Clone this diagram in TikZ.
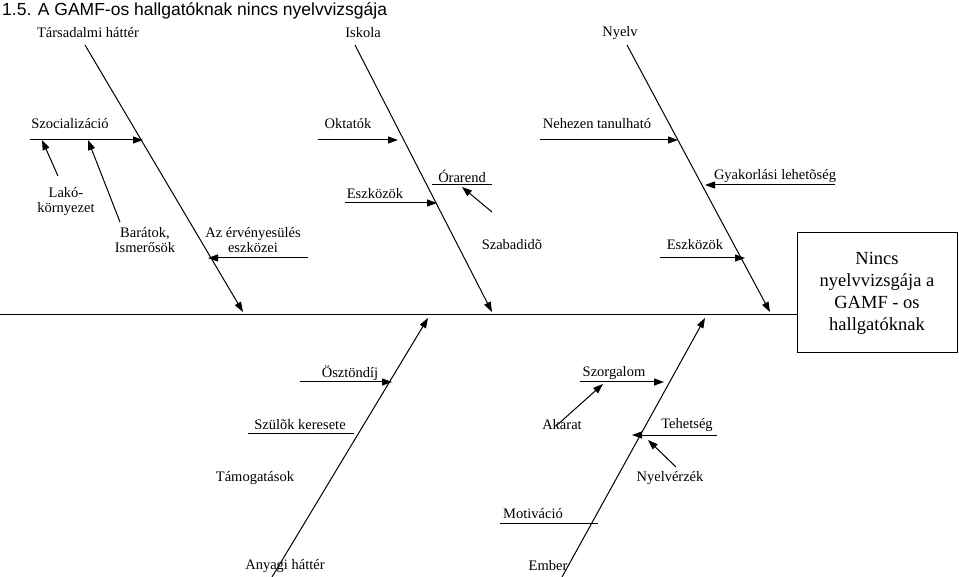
\documentclass[tikz,border=0pt]{standalone}
\usepackage{fontspec}
\setmainfont{Liberation Serif}
\newfontfamily\titlefont{Liberation Sans}
\usetikzlibrary{arrows.meta}
\begin{document}
\begin{tikzpicture}[x=1pt,y=-1pt,
  lbl/.style={font=\fontsize{14.5}{15}\selectfont,inner sep=0pt,align=center},
  ar/.style={-{Triangle[length=10pt,width=7pt]},line width=1pt},
  ln/.style={line width=1pt}]
\useasboundingbox (0,0) rectangle (959,577);
\node[anchor=west,inner sep=0pt,font=\titlefont\fontsize{17.5}{19}\selectfont] (title) at (2,11) {1.5. A GAMF-os hallgatóknak nincs nyelvvizsgája};
% spine and box
\node[draw,line width=1pt,minimum width=160pt,minimum height=120pt,inner sep=0pt,align=center,font=\fontsize{18.5}{22}\selectfont] (box) at (877,293) {Nincs\\nyelvvizsgája a\\GAMF - os\\hallgatóknak};
\coordinate (s0) at (0,315);
\draw[ln] (s0) -- (box.west |- s0);
% top branches
\coordinate (t1a) at (85,45); \coordinate (t1b) at (243,312);
\coordinate (t2a) at (355,45); \coordinate (t2b) at (492,312);
\coordinate (t3a) at (627,45); \coordinate (t3b) at (770,312);
\draw[ar] (t1a) -- (t1b); \draw[ar] (t2a) -- (t2b); \draw[ar] (t3a) -- (t3b);
\node[lbl] (n1) at (88,33) {Társadalmi háttér};
\node[lbl] (n2) at (363,33) {Iskola};
\node[lbl] (n3) at (620,33) {Nyelv};
% bottom branches
\coordinate (b1a) at (272,577); \coordinate (b1b) at (428,318);
\coordinate (b2a) at (562,577); \coordinate (b2b) at (705,318);
\draw[ar] (b1a) -- (b1b); \draw[ar] (b2a) -- (b2b);
\node[lbl] (n4) at (285,566) {Anyagi háttér};
\node[lbl] (n5) at (548,566) {Ember};
% sub labels top
\node[lbl] (szoc) at (70,124) {Szocializáció};
\coordinate (szl) at (30,140); \coordinate (szr) at (143,140);
\draw[ar] (szl) -- (szr);
\node[lbl] (okt) at (348,124) {Oktatók};
\coordinate (okl) at (318,140); \coordinate (okr) at (398,140);
\draw[ar] (okl) -- (okr);
\node[lbl] (neh) at (597,124) {Nehezen tanulható};
\coordinate (nel) at (540,140); \coordinate (ner) at (678,140);
\draw[ar] (nel) -- (ner);
\node[lbl] (lako) at (66,202) {Lakó-\\környezet};
\coordinate (lk1) at (58,176); \coordinate (lk2) at (42,140);
\draw[ar] (lk1) -- (lk2);
\node[lbl] (bar) at (145,240) {Barátok,\\Ismerősök};
\coordinate (br1) at (120,222); \coordinate (br2) at (88,140);
\draw[ar] (br1) -- (br2);
\node[lbl] (erv) at (253,240) {Az érvényesülés\\eszközei};
\coordinate (ev1) at (308,258); \coordinate (ev2) at (208,258);
\draw[ar] (ev1) -- (ev2);
\node[lbl] (esz1) at (375,194) {Eszközök};
\coordinate (e1a) at (345,203); \coordinate (e1b) at (437,203);
\draw[ar] (e1a) -- (e1b);
\node[lbl] (ora) at (462,176) {Órarend};
\coordinate (o1) at (432,185); \coordinate (o2) at (492,185);
\draw[ln] (o1) -- (o2);
\coordinate (sz1) at (492,212); \coordinate (sz2) at (462,187);
\draw[ar] (sz1) -- (sz2);
\node[lbl] (szab) at (512,245) {Szabadidõ};
\node[lbl] (esz2) at (695,245) {Eszközök};
\coordinate (e2a) at (660,258); \coordinate (e2b) at (745,258);
\draw[ar] (e2a) -- (e2b);
\node[lbl] (gyak) at (775,176) {Gyakorlási lehetõség};
\coordinate (g1) at (835,185); \coordinate (g2) at (705,185);
\draw[ar] (g1) -- (g2);
% sub labels bottom
\node[lbl] (osz) at (350,373) {Ösztöndíj};
\coordinate (oz1) at (300,382); \coordinate (oz2) at (392,382);
\draw[ar] (oz1) -- (oz2);
\node[lbl] (szorg) at (614,373) {Szorgalom};
\coordinate (sg1) at (580,382); \coordinate (sg2) at (664,382);
\draw[ar] (sg1) -- (sg2);
\node[lbl] (szul) at (300,425) {Szülõk keresete};
\coordinate (su1) at (248,433); \coordinate (su2) at (354,433);
\draw[ln] (su1) -- (su2);
\node[lbl] (aka) at (562,425) {Akarat};
\coordinate (ak1) at (556,426); \coordinate (ak2) at (603,384);
\draw[ar] (ak1) -- (ak2);
\node[lbl] (teh) at (687,425) {Tehetség};
\coordinate (th1) at (717,435); \coordinate (th2) at (632,435);
\draw[ar] (th1) -- (th2);
\node[lbl] (nye) at (670,478) {Nyelvérzék};
\coordinate (ny1) at (676,467); \coordinate (ny2) at (648,440);
\draw[ar] (ny1) -- (ny2);
\node[lbl] (tam) at (255,478) {Támogatások};
\node[lbl] (mot) at (533,514) {Motiváció};
\coordinate (m1) at (500,523); \coordinate (m2) at (598,523);
\draw[ln] (m1) -- (m2);
\end{tikzpicture}
\end{document}
